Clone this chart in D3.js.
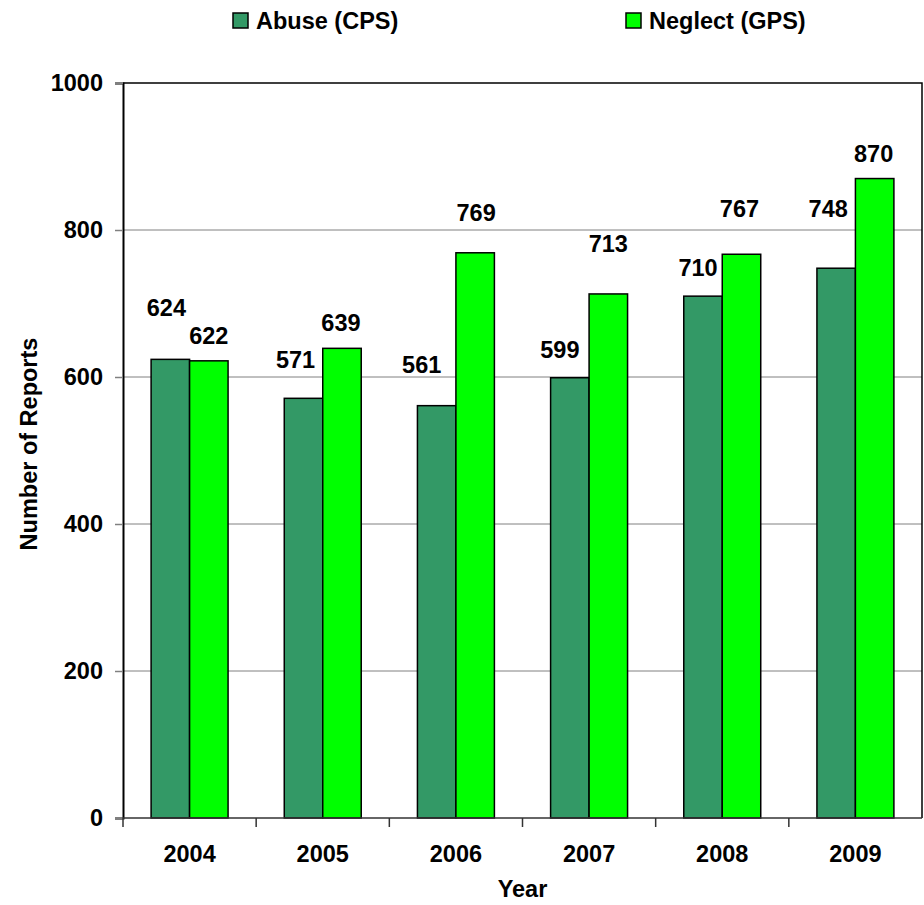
<!DOCTYPE html>
<html>
<head>
<meta charset="utf-8">
<script src="https://cdn.jsdelivr.net/npm/d3@7"></script>
<style>
  html, body { margin: 0; padding: 0; background: #fff; }
  svg { display: block; font-family: "Liberation Sans", Arial, sans-serif; font-weight: bold; }
</style>
</head>
<body>
<svg id="chart" width="924" height="905"></svg>
<script>
// ---- data ----
const years = ["2004", "2005", "2006", "2007", "2008", "2009"];
const seriesNames = ["Abuse (CPS)", "Neglect (GPS)"];
const abuse = [624, 571, 561, 599, 710, 748];
const neglect = [622, 639, 769, 713, 767, 870];
const yTicks = [0, 200, 400, 600, 800, 1000];

// label nudges (pixels) to mimic the original hand-placed data labels
const abuseLabelDx = [-4, -8, -15, -10, -5, -8];
const abuseLabelDy = [43, 30, 33, 20, 20, 51];
const neglectLabelDx = [0, -1, 1, 0, -2, -1];
const neglectLabelDy = [17, 17, 32, 42, 37, 17];

const colors = ["#339966", "#00FF00"];

const svg = d3.select("#chart");
const margin = { left: 123, right: 2, top: 83, bottom: 87 };
const W = 924, H = 905;
const x0 = margin.left, x1 = W - margin.right;
const yTop = margin.top, yBot = H - margin.bottom;

const x = d3.scaleBand().domain(years).range([x0, x1]).paddingInner(0).paddingOuter(0);
const groupFrac = 0.578;
const xs = d3.scaleBand().domain(seriesNames).range([0, x.bandwidth() * groupFrac]);
const y = d3.scaleLinear().domain([0, 1000]).range([yBot, yTop]);
const groupOffset = (x.bandwidth() - x.bandwidth() * groupFrac) / 2;

const FONT = 23.5;

// gridlines
svg.append("g").selectAll("line").data(yTicks.filter(d => d > 0 && d < 1000)).join("line")
  .attr("x1", x0).attr("x2", x1)
  .attr("y1", d => y(d)).attr("y2", d => y(d))
  .attr("stroke", "#808080").attr("stroke-width", 1);

// plot border (top, right)
svg.append("path")
  .attr("d", `M${x0},${yTop}H${x1}V${yBot}`)
  .attr("fill", "none").attr("stroke", "#000").attr("stroke-width", 1.5);

// bars
const data = years.map((yr, i) => ({ year: yr, vals: [abuse[i], neglect[i]], i }));
const groups = svg.append("g").selectAll("g").data(data).join("g")
  .attr("transform", d => `translate(${x(d.year) + groupOffset},0)`);
groups.selectAll("rect").data(d => d.vals.map((v, k) => ({ v, k, i: d.i }))).join("rect")
  .attr("x", d => xs(seriesNames[d.k]))
  .attr("width", xs.bandwidth())
  .attr("y", d => y(d.v))
  .attr("height", d => y(0) - y(d.v))
  .attr("fill", d => colors[d.k])
  .attr("stroke", "#000").attr("stroke-width", 1.5);

// value labels
groups.selectAll("text").data(d => d.vals.map((v, k) => ({ v, k, i: d.i }))).join("text")
  .attr("x", d => xs(seriesNames[d.k]) + xs.bandwidth() / 2 + (d.k === 0 ? abuseLabelDx[d.i] : neglectLabelDx[d.i]))
  .attr("y", d => y(d.v) - (d.k === 0 ? abuseLabelDy[d.i] : neglectLabelDy[d.i]))
  .attr("text-anchor", "middle")
  .attr("font-size", FONT)
  .attr("fill", "#000")
  .text(d => d.v);

// y axis
const yAxis = d3.axisLeft(y).tickValues(yTicks).tickSize(8).tickPadding(12).tickFormat(d3.format("d"));
const gy = svg.append("g").attr("transform", `translate(${x0},0)`).call(yAxis);
gy.select(".domain").attr("stroke", "#000").attr("stroke-width", 2);
gy.selectAll(".tick line").attr("stroke", "#808080").attr("stroke-width", 1.5);
gy.selectAll(".tick text").attr("font-size", FONT).attr("font-family", "Liberation Sans, Arial, sans-serif").attr("font-weight", "bold").attr("fill", "#000");

// x axis
const gx = svg.append("g").attr("transform", `translate(0,${yBot})`);
gx.append("line").attr("x1", x0).attr("x2", x1).attr("y1", 0).attr("y2", 0)
  .attr("stroke", "#333").attr("stroke-width", 1.5);
const boundaries = years.map(yr => x(yr)).concat([x1]);
gx.selectAll("line.tk").data(boundaries.slice(0, 6)).join("line").attr("class", "tk")
  .attr("x1", d => d).attr("x2", d => d).attr("y1", 0).attr("y2", 9)
  .attr("stroke", "#333").attr("stroke-width", 1.5);
gx.selectAll("text").data(years).join("text")
  .attr("x", d => x(d) + x.bandwidth() / 2)
  .attr("y", 44)
  .attr("text-anchor", "middle")
  .attr("font-size", FONT)
  .text(d => d);

// axis titles
svg.append("text").attr("x", (x0 + x1) / 2).attr("y", 897).attr("text-anchor", "middle")
  .attr("font-size", FONT).text("Year");
svg.append("text").attr("transform", `translate(37,444) rotate(-90)`).attr("text-anchor", "middle")
  .attr("font-size", FONT).text("Number of Reports");

// legend
const legendPos = [233, 626];
const lg = svg.append("g").selectAll("g").data(seriesNames).join("g")
  .attr("transform", (d, k) => `translate(${legendPos[k]},13)`);
lg.append("rect").attr("width", 15).attr("height", 15)
  .attr("fill", (d, k) => colors[k]).attr("stroke", "#000").attr("stroke-width", 1.5);
lg.append("text").attr("x", 23).attr("y", 16).attr("font-size", FONT).text(d => d);
</script>
</body>
</html>
